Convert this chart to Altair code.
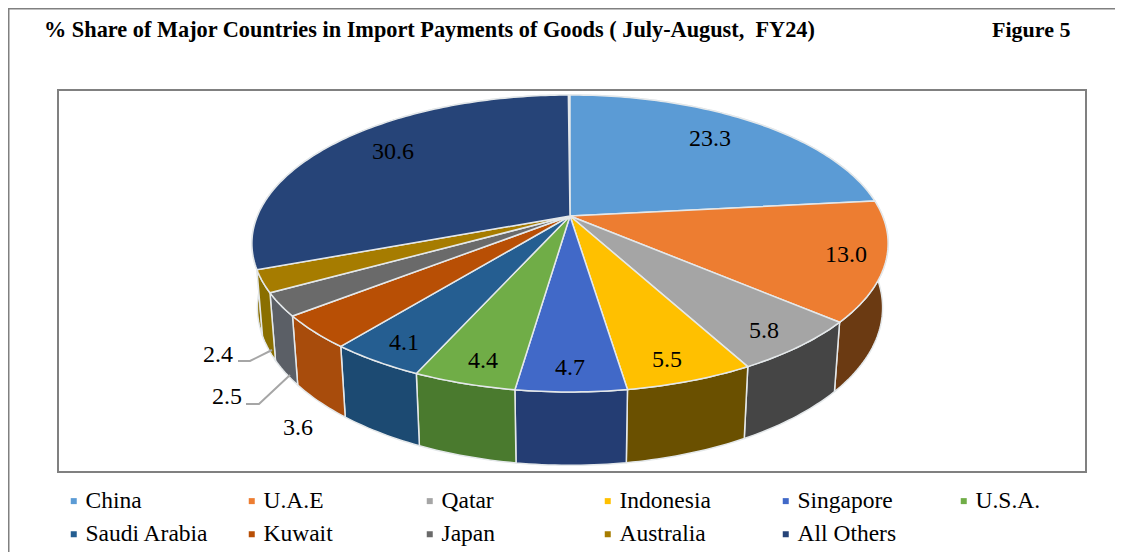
import math
import altair as alt

names = ["China", "U.A.E", "Qatar", "Indonesia", "Singapore", "U.S.A.",
         "Saudi Arabia", "Kuwait", "Japan", "Australia", "All Others"]
shares = [23.3, 13.0, 5.8, 5.5, 4.7, 4.4, 4.1, 3.6, 2.5, 2.4, 30.6]
share_labels = ["23.3", "13.0", "5.8", "5.5", "4.7", "4.4", "4.1", "3.6", "2.5", "2.4", "30.6"]
top_colors = ["#5B9BD5", "#ED7D31", "#A5A5A5", "#FFC000", "#4169C8", "#70AD47",
              "#255E91", "#B84F05", "#6A6A6A", "#A67C00", "#264478"]
side_colors = ["#3A6A96", "#6B3A12", "#454545", "#6A5000", "#243D73", "#4A7A2E",
               "#1C4A72", "#A84C0C", "#5B5F66", "#8A6F00", "#8A6F00"]

W, H = 1107, 544
OFF = 8  # page margin


def project(angle, h=0.0, r=1.0):
    """Tilted pie: angle clockwise from 12 o'clock; h = 1 on the bottom rim."""
    u, v = r * math.sin(angle), -r * math.cos(angle)
    s = 1.0 / (1 - 0.185 * v + 0.017 * h)
    return [570 - OFF + 312.6 * u * s, 216 - OFF + (143.4 * v + 64 * h) * s]


def arc(a0, a1, h=0.0):
    n = max(2, int(abs(a1 - a0) / math.radians(1)) + 1)
    return [project(a0 + (a1 - a0) * i / n, h) for i in range(n + 1)]


top_features, side_features = [], []
cum = 0.0
for name, share, side in zip(names, shares, side_colors):
    a0 = 2 * math.pi * cum / 100
    cum += share
    a1 = 2 * math.pi * cum / 100
    centre = project(0, 0, 0)
    t = [centre] + arc(a0, a1) + [centre]
    top_features.append({"type": "Feature", "properties": {"name": name},
                         "geometry": {"type": "Polygon", "coordinates": [t]}})
    top_rim, low_rim = arc(a0, a1), arc(a1, a0, 1.0)
    w = top_rim + low_rim + [top_rim[0]]
    side_features.append({"type": "Feature", "properties": {"side": side},
                          "geometry": {"type": "Polygon", "coordinates": [w]}})
# the walls that face away go first, so they cannot cover the visible ones
side_features = side_features[-1:] + side_features[:-1]

proj = dict(type="identity", scale=1, translate=[0, 0])
edge = "#E4E8EA"

sides = alt.Chart(alt.Data(values=side_features)).mark_geoshape(
    stroke=edge, strokeWidth=1.5
).encode(fill=alt.Fill("properties.side:N", scale=None)).project(**proj)

tops = alt.Chart(alt.Data(values=top_features)).mark_geoshape(
    stroke=edge, strokeWidth=1.5
).encode(
    fill=alt.Fill(
        "properties.name:N",
        scale=alt.Scale(domain=names, range=top_colors),
        legend=alt.Legend(
            title=None, orient="none", legendX=54, legendY=481, columns=6,
            direction="horizontal", gridAlign="all", symbolType="square", symbolSize=36,
            symbolStrokeWidth=0, labelFont="Liberation Serif", labelFontSize=23.5,
            labelColor="#000000", labelLimit=200, columnPadding=31, rowPadding=8.5,
            symbolOffset=0, labelOffset=0,
        ),
    )
).project(**proj)

xs = alt.Scale(domain=[0, W], range=[0, W], nice=False, zero=False)
ys = alt.Scale(domain=[0, H], range=[0, H], nice=False, zero=False)
X = lambda f: alt.X(f, scale=xs, axis=None)
Y = lambda f: alt.Y(f, scale=ys, axis=None)

outer_rows = [{"id": 0, "i": 0, "x": 0.5, "y": H}, {"id": 0, "i": 1, "x": 0.5, "y": 0.5},
              {"id": 0, "i": 2, "x": W, "y": 0.5}]
outer = alt.Chart(alt.Data(values=outer_rows)).mark_line(
    color="#808080", strokeWidth=2
).encode(x=X("x:Q"), y=Y("y:Q"), detail="id:N", order="i:Q")

frame = alt.Chart(alt.Data(values=[{"a": 50, "b": 1078, "c": 82, "d": 464}])).mark_rect(
    fill="#FFFFFF", stroke="#808080", strokeWidth=2
).encode(x=X("a:Q"), x2="b:Q", y=Y("c:Q"), y2="d:Q")

label_x = [702, 838, 756, 659, 562, 475, 396, 290, 219, 210, 385]
label_y = [131, 247, 323, 352, 360, 353, 335, 420, 389, 347, 144]
labels = alt.Chart(alt.Data(values=[
    {"t": t, "x": x, "y": y} for t, x, y in zip(share_labels, label_x, label_y)
])).mark_text(font="Liberation Serif", fontSize=24, color="#000000").encode(
    x=X("x:Q"), y=Y("y:Q"), text="t:N"
)

leader_rows = []
for lid, pts in enumerate([[(230, 353), (242, 353), (264, 342)],
                           [(238, 396), (251, 396), (282, 367)]]):
    for i, (px, py) in enumerate(pts):
        leader_rows.append({"id": lid, "i": i, "x": px, "y": py})
leaders = alt.Chart(alt.Data(values=leader_rows)).mark_line(
    color="#A6A6A6", strokeWidth=2
).encode(x=X("x:Q"), y=Y("y:Q"), detail="id:N", order="i:Q")

title = alt.Chart(alt.Data(values=[
    {"t": "% Share of Major Countries in Import Payments of Goods ( July-August,\u00a0 FY24)", "x": 36, "y": 22}
])).mark_text(font="Liberation Serif", fontSize=22.3, fontWeight="bold", align="left", color="#000000").encode(
    x=X("x:Q"), y=Y("y:Q"), text="t:N"
)
fig = alt.Chart(alt.Data(values=[{"t": "Figure 5", "x": 984, "y": 22}])).mark_text(
    font="Liberation Serif", fontSize=22, fontWeight="bold", align="left", color="#000000"
).encode(x=X("x:Q"), y=Y("y:Q"), text="t:N")

chart = alt.layer(outer, frame, sides, tops, leaders, labels, title, fig).properties(
    width=W, height=H, padding=0, autosize=alt.AutoSizeParams(type="none"),
    background="#FFFFFF",
).configure_view(stroke=None)

chart.save("out.html", embed_options={"renderer": "svg", "actions": False})
